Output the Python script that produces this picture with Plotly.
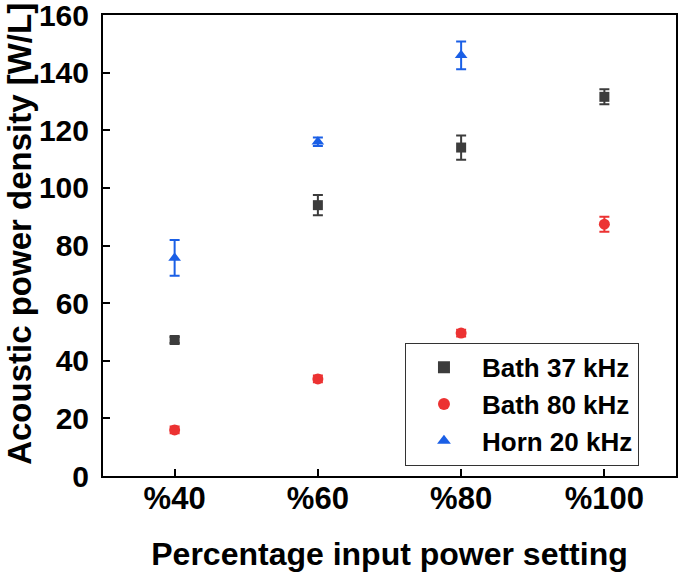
import plotly.graph_objects as go

x_vals = [40, 60, 80, 100]
tick_labels = ["%40", "%60", "%80", "%100"]

bath37 = [47.2, 94.0, 114.0, 131.6]
bath37_err = [1.0, 3.5, 4.2, 2.6]

bath80 = [16.0, 33.7, 49.6, 87.4]
bath80_err = [1.2, 1.2, 1.2, 2.6]

horn_x = [40, 60, 80]
horn20 = [75.7, 116.0, 146.0]
horn20_err = [6.2, 1.5, 4.8]

c37 = "#3c3c3c"
c80 = "#ec3232"
c20 = "#1a5fe6"

fig = go.Figure()
fig.add_trace(go.Scatter(
    x=x_vals, y=bath37, mode="markers", name="Bath 37 kHz",
    marker=dict(symbol="square", size=10, color=c37),
    error_y=dict(type="data", array=bath37_err, color=c37, thickness=2, width=5)))
fig.add_trace(go.Scatter(
    x=x_vals, y=bath80, mode="markers", name="Bath 80 kHz",
    marker=dict(symbol="circle", size=11, color=c80),
    error_y=dict(type="data", array=bath80_err, color=c80, thickness=2, width=5)))
fig.add_trace(go.Scatter(
    x=horn_x, y=horn20, mode="markers", name="Horn 20 kHz",
    marker=dict(symbol="triangle-up", size=11, color=c20),
    error_y=dict(type="data", array=horn20_err, color=c20, thickness=2, width=5)))

font_family = "Liberation Sans, Arial, sans-serif"

fig.update_layout(
    width=679, height=572,
    margin=dict(l=103, r=3, t=15, b=96, autoexpand=False),
    paper_bgcolor="white", plot_bgcolor="white",
    font=dict(family=font_family, color="black"),
    showlegend=True,
    legend=dict(
        x=0.527, y=0.022, xanchor="left", yanchor="bottom",
        bordercolor="#333333", borderwidth=1, bgcolor="white",
        font=dict(size=26, family=font_family, weight="bold"),
        itemsizing="constant", tracegroupgap=0, itemwidth=66,
    ),
    xaxis=dict(
        range=[30, 110], tickvals=x_vals, ticktext=tick_labels,
        automargin=False,
        showline=True, linecolor="black", linewidth=2, mirror=True,
        ticks="inside", ticklen=7, tickwidth=2, tickcolor="black",
        showgrid=False, zeroline=False,
        tickfont=dict(size=31, weight="bold"),
        ticklabelstandoff=-6,
        title=dict(text="Percentage input power setting",
                   font=dict(size=32, weight="bold"), standoff=28),
    ),
    yaxis=dict(
        range=[0, 160], tickvals=[0, 20, 40, 60, 80, 100, 120, 140, 160],
        automargin=False,
        showline=True, linecolor="black", linewidth=2, mirror=True,
        ticks="inside", ticklen=7, tickwidth=2, tickcolor="black",
        showgrid=False, zeroline=False,
        tickfont=dict(size=30, weight="bold"),
        ticklabelstandoff=6, ticklabeloverflow="allow",
    ),
    annotations=[dict(
        text="Acoustic power density [W/L]", textangle=-90,
        xref="paper", yref="paper", x=-0.146, y=0.526,
        xanchor="center", yanchor="middle", showarrow=False,
        font=dict(size=33, weight="bold", family=font_family, color="black"),
    )],
)

fig.write_html("out.html", config={"displayModeBar": False},
               post_script="document.body.style.margin='0px';")
